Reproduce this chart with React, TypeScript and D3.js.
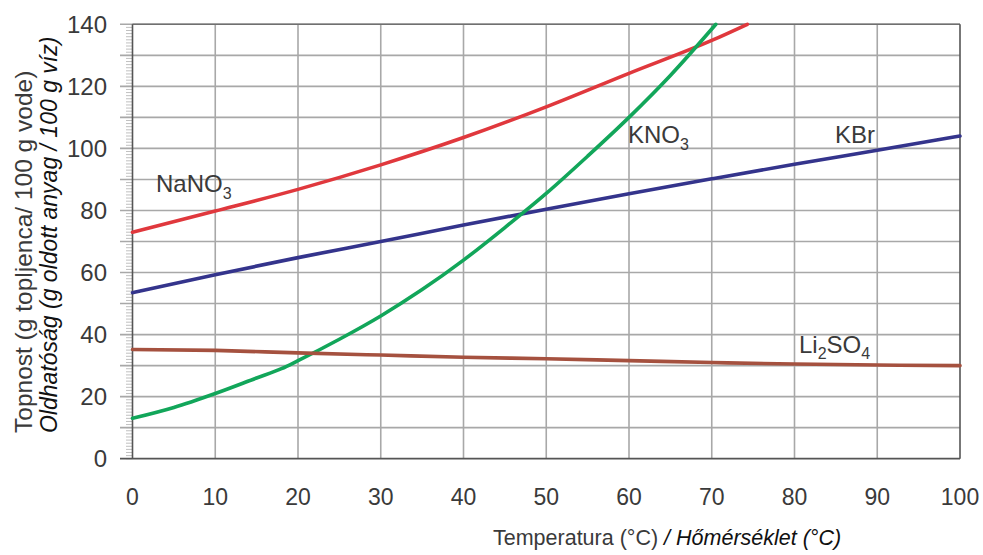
import React from "react";
import * as d3 from "d3";

const W = 983;
const H = 555;

const xTicks = [0, 10, 20, 30, 40, 50, 60, 70, 80, 90, 100];
const yTicks = [0, 20, 40, 60, 80, 100, 120, 140];
const yGrid = [10, 20, 30, 40, 50, 60, 70, 80, 90, 100, 110, 120, 130, 140];

const nano3T = [0, 10, 20, 30, 40, 50, 60, 70, 74.3];
const nano3V = [73, 79.8, 86.8, 94.7, 103.5, 113.4, 124.2, 134.8, 140];

const kbrT = [0, 10, 20, 30, 40, 50, 60, 70, 80, 90, 100];
const kbrV = [53.5, 59.3, 64.8, 70, 75.3, 80.4, 85.4, 90.2, 94.9, 99.4, 104];

const kno3T = [0, 5, 10, 15, 18, 20, 25, 30, 35, 40, 45, 50, 55, 60, 65, 70.5];
const kno3V = [13, 16.5, 21, 26, 29, 31.6, 38.5, 46, 54.5, 64, 74.5, 85.5, 97.5, 110, 123.5, 140];

const li2so4T = [0, 10, 20, 30, 40, 50, 60, 70, 80, 90, 100];
const li2so4V = [35.2, 34.9, 34.1, 33.4, 32.7, 32.2, 31.6, 31, 30.5, 30.2, 30];

const seriesNames = ["NaNO3", "KBr", "KNO3", "Li2SO4"];
const seriesColors = ["#e0383d", "#34348c", "#12a65a", "#a5513f"];

export default function App() {
  const x = d3.scaleLinear().domain([0, 100]).range([132.5, 960]);
  const y = d3.scaleLinear().domain([0, 140]).range([458.7, 24.3]);
  const line = d3
    .line<[number, number]>()
    .x((d) => x(d[0]))
    .y((d) => y(d[1]))
    .curve(d3.curveMonotoneX);

  const data: [number, number][][] = [
    nano3T.map((t, i) => [t, nano3V[i]]),
    kbrT.map((t, i) => [t, kbrV[i]]),
    kno3T.map((t, i) => [t, kno3V[i]]),
    li2so4T.map((t, i) => [t, li2so4V[i]]),
  ];

  const minor = d3.range(0, 140, 1);
  const font = "'Liberation Sans', Arial, sans-serif";
  const textGray = "#3a3a3a";

  return (
    <svg
      width={W}
      height={H}
      style={{ position: "absolute", left: 0, top: 0, background: "#fff" }}
      fontFamily={font}
    >
      {/* minor ticks */}
      {minor.map((v) => (
        <line key={"m" + v} x1={126} x2={x(0)} y1={y(v)} y2={y(v)} stroke="#b0b0b0" strokeWidth={0.8} />
      ))}
      {/* horizontal gridlines */}
      {yGrid.map((v) => (
        <line key={"h" + v} x1={120} x2={x(100)} y1={y(v)} y2={y(v)} stroke="#a8a8a8" strokeWidth={1.6} />
      ))}
      {/* vertical gridlines */}
      {xTicks.slice(1, -1).map((v) => (
        <line key={"v" + v} x1={x(v)} x2={x(v)} y1={y(0)} y2={y(140)} stroke="#a8a8a8" strokeWidth={1.6} />
      ))}
      {/* frame */}
      <line x1={x(0)} x2={x(100)} y1={y(140)} y2={y(140)} stroke="#707070" strokeWidth={1.6} />
      <line x1={x(100)} x2={x(100)} y1={y(140)} y2={y(0)} stroke="#555" strokeWidth={1.6} />
      <line x1={x(0)} x2={x(0)} y1={y(140)} y2={y(0)} stroke="#555" strokeWidth={1.6} />
      <line x1={120} x2={x(100)} y1={y(0)} y2={y(0)} stroke="#555" strokeWidth={1.8} />

      {/* series */}
      {data.map((d, i) => (
        <path
          key={seriesNames[i]}
          d={line(d) || ""}
          fill="none"
          stroke={seriesColors[i]}
          strokeWidth={3.6}
          strokeLinecap="round"
        />
      ))}

      {/* y tick labels */}
      {yTicks.map((v) => (
        <text key={"yl" + v} x={107} y={y(v) + 8.5} textAnchor="end" fontSize={24} fill={textGray}>
          {v}
        </text>
      ))}
      {/* x tick labels */}
      {xTicks.map((v) => (
        <text key={"xl" + v} x={x(v)} y={505} textAnchor="middle" fontSize={23} fill={textGray}>
          {v}
        </text>
      ))}

      {/* x title */}
      <text x={493} y={545} fontSize={21.5} fill={textGray}>
        Temperatura (°C)
        <tspan fill="#111" fontStyle="italic"> / Hőmérséklet (°C)</tspan>
      </text>

      {/* y title */}
      <text transform="translate(32,433) rotate(-90)" fontSize={24.5} fill={textGray}>
        Topnost (g topljenca/ 100 g vode)
      </text>
      <text transform="translate(57,433) rotate(-90)" fontSize={23} fill="#111" fontStyle="italic">
        Oldhatóság (g oldott anyag / 100 g víz)
      </text>

      {/* series labels */}
      <text x={156} y={192} fontSize={24} fill={textGray}>
        NaNO<tspan fontSize={16} dy={7}>3</tspan>
      </text>
      <text x={628} y={143} fontSize={24} fill={textGray}>
        KNO<tspan fontSize={16} dy={7}>3</tspan>
      </text>
      <text x={835} y={143} fontSize={24} fill={textGray}>
        KBr
      </text>
      <text x={799} y={353} fontSize={24} fill={textGray}>
        Li<tspan fontSize={16} dy={6}>2</tspan>
        <tspan dy={-6}>SO</tspan>
        <tspan fontSize={16} dy={6}>4</tspan>
      </text>
    </svg>
  );
}
